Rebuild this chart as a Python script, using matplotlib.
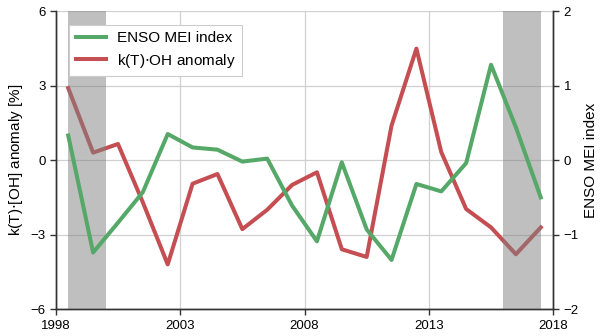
import matplotlib
matplotlib.use('Agg')
import matplotlib.pyplot as plt

years = [1998.5 + i for i in range(20)]
oh_anom = [2.9, 0.3, 0.65, -1.7, -4.2, -0.95, -0.56, -2.78, -2.0, -1.0,
           -0.49, -3.59, -3.9, 1.39, 4.49, 0.32, -1.97, -2.71, -3.79, -2.71]
mei = [0.33, -1.24, -0.84, -0.43, 0.35, 0.17, 0.14, -0.02, 0.02, -0.61,
       -1.09, -0.03, -0.93, -1.34, -0.32, -0.42, -0.04, 1.28, 0.44, -0.5]
shade_periods = [(1998.5, 2000.0), (2016.0, 2017.5)]
xticks = [1998, 2003, 2008, 2013, 2018]

plt.rcParams['font.family'] = ['Liberation Sans', 'DejaVu Sans']
plt.rcParams['font.size'] = 9.5

green = '#55a868'
red = '#c44e52'
spine_col = '#333333'

fig = plt.figure(figsize=(6, 3.36), dpi=100)
ax1 = fig.add_axes([0.093, 0.080, 0.829, 0.887])
ax2 = ax1.twinx()

ax1.plot(years, oh_anom, color=red, lw=2.9, label='k(T)$\\cdot$OH anomaly')
for a, b in shade_periods:
    ax1.axvspan(a, b, color='gray', alpha=0.5, lw=0, zorder=3)
ax2.plot(years, mei, color=green, lw=2.9, label='ENSO MEI index')

ax1.set_xlim(1998, 2018)
ax1.set_ylim(-6, 6)
ax2.set_ylim(-2, 2)
ax1.set_xticks(xticks)
ax1.set_yticks([-6, -3, 0, 3, 6])
ax2.set_yticks([-2, -1, 0, 1, 2])
ax1.set_ylabel('k(T)$\\cdot$[OH] anomaly [%]', fontsize=11)
ax2.set_ylabel('ENSO MEI index', fontsize=11)

ax1.grid(True, color='#d0d0d0', lw=0.9)
ax1.set_axisbelow(True)
ax2.grid(False)

for ax in (ax1, ax2):
    ax.spines['top'].set_visible(False)
    for s in ('left', 'right', 'bottom'):
        ax.spines[s].set_color(spine_col)
        ax.spines[s].set_linewidth(1.0)
    ax.tick_params(direction='out', length=4, width=1, color=spine_col)

h1, l1 = ax1.get_legend_handles_labels()
h2, l2 = ax2.get_legend_handles_labels()
leg = ax2.legend(h2 + h1, l2 + l1, loc='upper left', bbox_to_anchor=(0.012, 0.978),
                 frameon=True, fancybox=False, edgecolor='#cccccc', framealpha=1,
                 handlelength=2.0, handletextpad=0.7, labelspacing=0.4,
                 borderpad=0.4, fontsize=11)
leg.get_frame().set_linewidth(0.8)

fig.savefig('out.png', dpi=100)
